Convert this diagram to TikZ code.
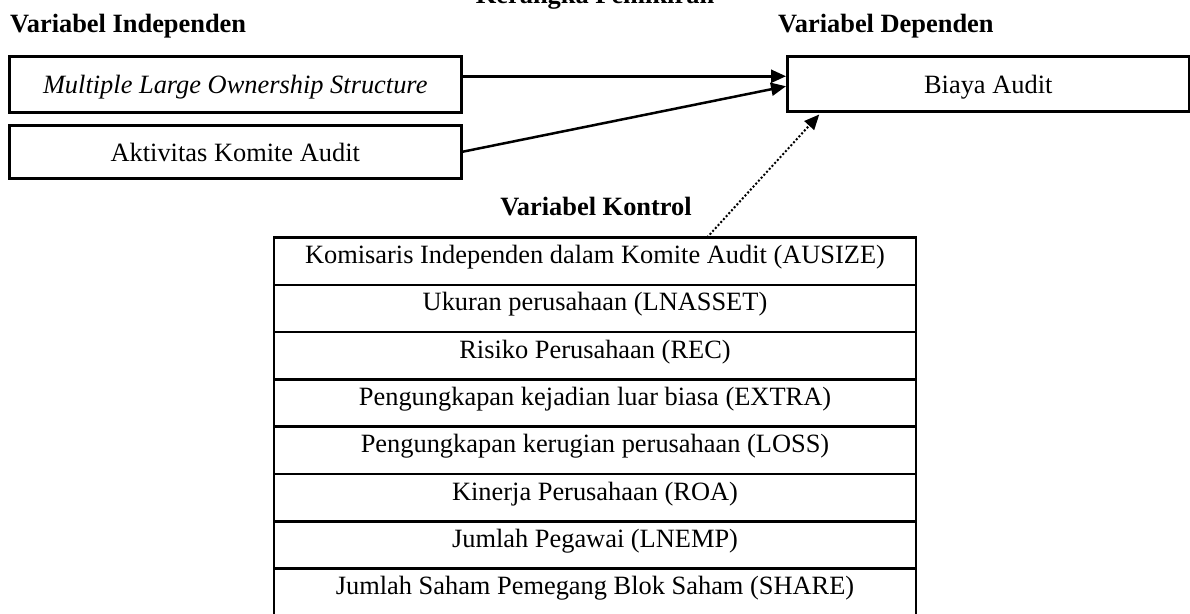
\documentclass[tikz,border=0pt]{standalone}
\usepackage{fontspec}
\setmainfont{Liberation Serif}
\usetikzlibrary{arrows.meta,positioning}

\begin{document}
\begin{tikzpicture}[x=1pt,y=-1pt,
  font=\fontsize{26.4}{30}\selectfont,
  heading/.style={font=\fontsize{26.4}{30}\selectfont\bfseries,anchor=base,inner sep=0pt},
  varbox/.style={draw,line width=2.5pt,inner sep=0pt,align=center},
  cell/.style={draw,line width=2.5pt,inner sep=0pt,outer sep=0pt,minimum width=642pt,
    text height=26pt,text depth=21.3pt},
  arr/.style={line width=2.5pt,-{Triangle[length=15pt,width=13pt]}},
  dotarr/.style={line width=2pt,dash pattern=on 2pt off 2pt,-{Triangle[length=15pt,width=13pt]}}
]
\useasboundingbox (0,0) rectangle (1190,613);
\clip (0,0) rectangle (1190,613);

% headings
\node[heading] (title) at (595,3) {Kerangka Pemikiran};
\node[heading,anchor=base west] (hind) at (10,32) {Variabel Independen};
\node[heading,anchor=base west] (hdep) at (778,32) {Variabel Dependen};
\node[heading] (hkon) at (596,215) {Variabel Kontrol};

% independent variables
\node[varbox,minimum width=452pt,text height=37pt,text depth=19pt,anchor=north west]
  (mlos) at (8,55) {\itshape Multiple Large Ownership Structure};
\node[varbox,minimum width=452pt,text height=36pt,text depth=17pt,anchor=north west]
  (kom) at (8,124) {Aktivitas Komite Audit};

% dependent variable
\node[varbox,minimum width=402pt,text height=37pt,text depth=18pt,anchor=north west]
  (biaya) at (786,55) {Biaya Audit};

% control variables table
\node[cell,anchor=north west] (r1) at (274,237.5) {Komisaris Independen dalam Komite Audit (AUSIZE)};
\node[cell,below=0pt of r1] (r2) {Ukuran perusahaan (LNASSET)};
\node[cell,below=0pt of r2] (r3) {Risiko Perusahaan (REC)};
\node[cell,below=0pt of r3] (r4) {Pengungkapan kejadian luar biasa (EXTRA)};
\node[cell,below=0pt of r4] (r5) {Pengungkapan kerugian perusahaan (LOSS)};
\node[cell,below=0pt of r5] (r6) {Kinerja Perusahaan (ROA)};
\node[cell,below=0pt of r6] (r7) {Jumlah Pegawai (LNEMP)};
\node[cell,below=0pt of r7] (r8) {Jumlah Saham Pemegang Blok Saham (SHARE)};

% connectors
\draw[arr] ([yshift=8pt]mlos.east) -- ([yshift=7.5pt]biaya.west);
\draw[arr] (kom.east) -- ([yshift=-2.5pt]biaya.west);
\draw[dotarr] ([xshift=112pt]r1.north) -- ([xshift=-169pt,yshift=-2pt]biaya.south);
\end{tikzpicture}
\end{document}
